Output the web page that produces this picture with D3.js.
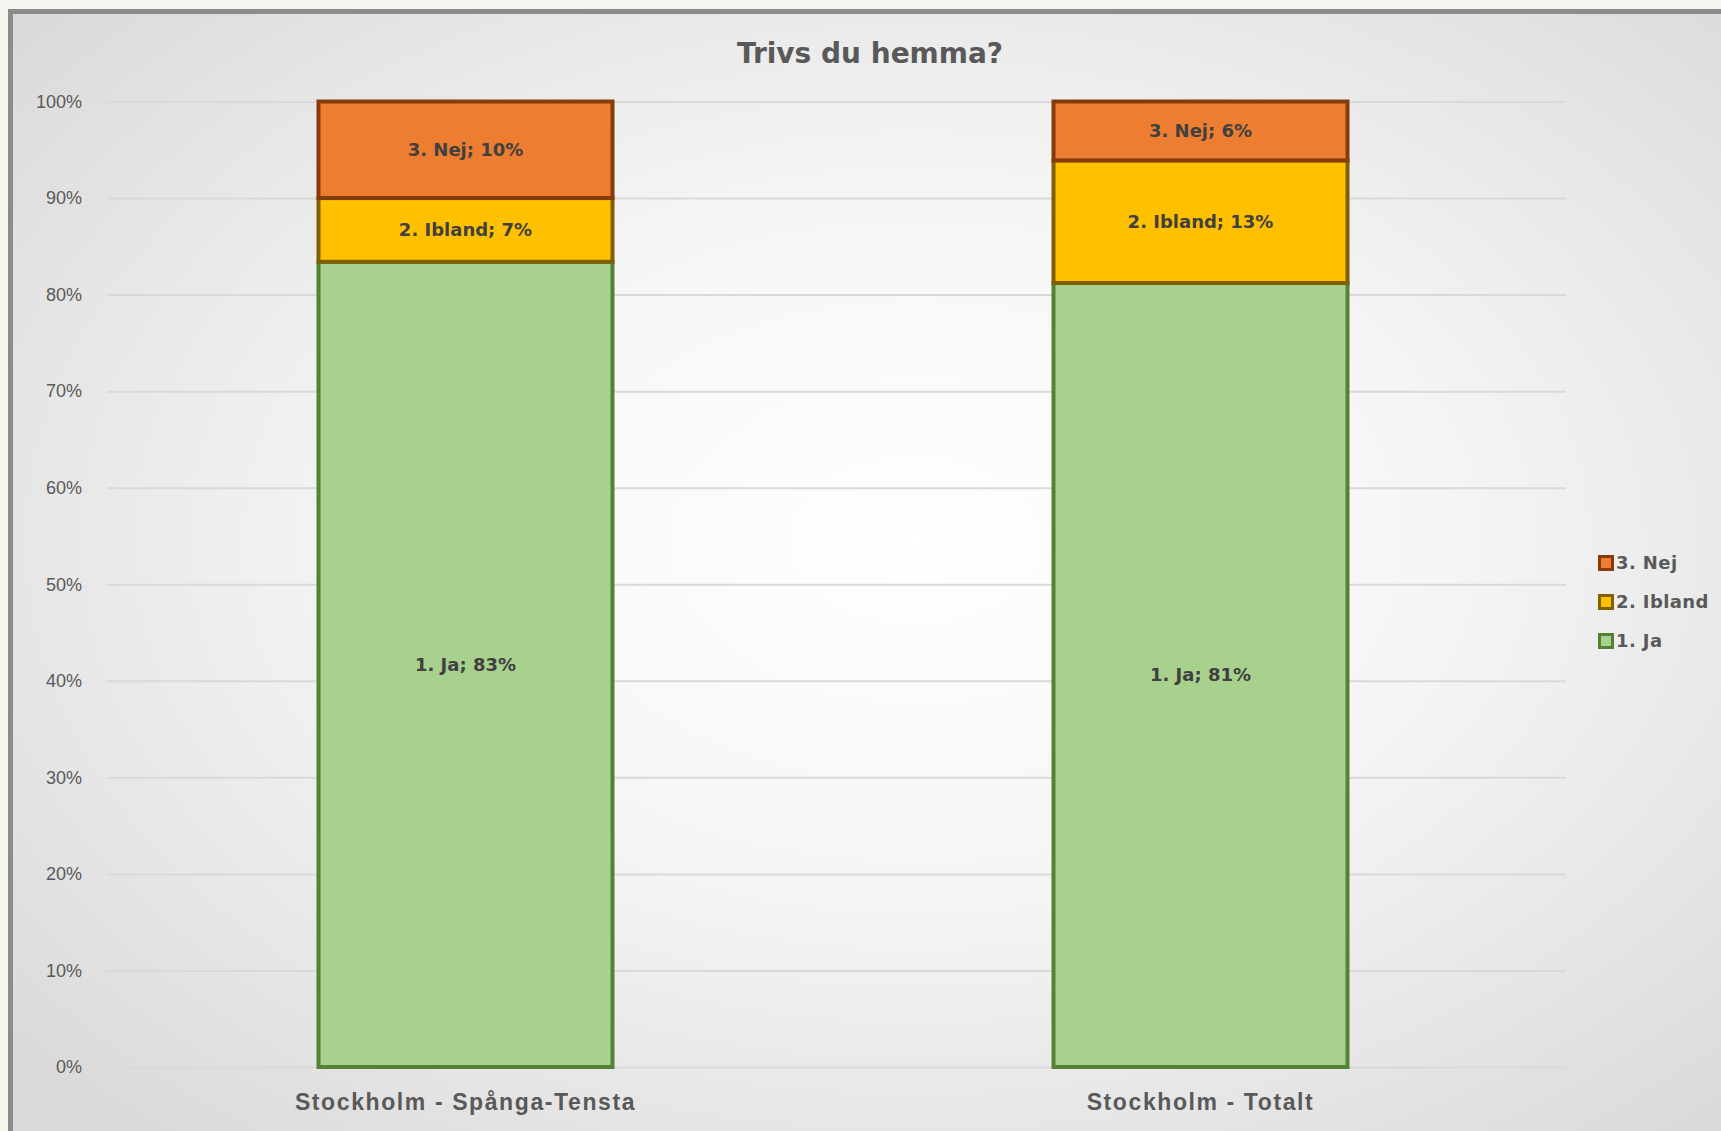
<!DOCTYPE html>
<html>
<head>
<meta charset="utf-8">
<script src="https://cdn.jsdelivr.net/npm/d3@7"></script>
<style>
  html, body { margin: 0; padding: 0; background: #f5f5f0; overflow: hidden; }
  svg { display: block; font-family: "DejaVu Sans", sans-serif; }
</style>
</head>
<body>
<svg id="chart"></svg>
<script>
const width = 1721;
const height = 1131;

// data
const categories = ["Stockholm - Spånga-Tensta", "Stockholm - Totalt"];
const seriesNames = ["1. Ja", "2. Ibland", "3. Nej"];
const ja = [83.4, 81.2];
const ibland = [6.6, 12.7];
const nej = [10.0, 6.1];
const yTicks = [0, 10, 20, 30, 40, 50, 60, 70, 80, 90, 100];

const fills = ["#a9d18e", "#ffc000", "#ed7d31"];
const strokes = ["#548235", "#7f6000", "#843c0c"];

const svg = d3.select("#chart")
  .attr("width", width)
  .attr("height", height);

// background gradient
const defs = svg.append("defs");
const grad = defs.append("radialGradient")
  .attr("id", "bg")
  .attr("cx", "52%").attr("cy", "46%").attr("r", "68%");
grad.append("stop").attr("offset", "0%").attr("stop-color", "#ffffff");
grad.append("stop").attr("offset", "45%").attr("stop-color", "#f5f5f5");
grad.append("stop").attr("offset", "100%").attr("stop-color", "#dadada");

svg.append("rect")
  .attr("x", 10.5)
  .attr("y", 11.5)
  .attr("width", width + 20)
  .attr("height", height + 20)
  .attr("fill", "url(#bg)")
  .attr("stroke", "#8c8c8c")
  .attr("stroke-width", 5);

const table = categories.map((c, i) => ({
  category: c,
  "1. Ja": ja[i],
  "2. Ibland": ibland[i],
  "3. Nej": nej[i]
}));

const stacked = d3.stack().keys(seriesNames)(table);

const x = d3.scaleBand()
  .domain(categories)
  .range([98, 1568])
  .paddingInner(0.6)
  .paddingOuter(0.3);

const y = d3.scaleLinear()
  .domain([0, 100])
  .range([1067, 101.5]);

// gridlines
const grid = svg.append("g")
  .attr("transform", "translate(107,0)")
  .call(d3.axisLeft(y).tickValues(yTicks).tickSize(-(1566 - 107)).tickFormat(""));
grid.select(".domain").remove();
grid.selectAll(".tick line")
  .attr("stroke", "#d9d9d9")
  .attr("stroke-width", 2);

// y axis labels
const yAxis = svg.append("g")
  .attr("transform", "translate(107,0)")
  .call(d3.axisLeft(y).tickValues(yTicks).tickSize(0).tickPadding(25).tickFormat(d => d + "%"));
yAxis.select(".domain").remove();
yAxis.selectAll("text")
  .attr("fill", "#595959")
  .style("font-size", "18px");

// bars
const layers = svg.append("g")
  .selectAll("g")
  .data(stacked)
  .join("g");

layers.selectAll("rect")
  .data(d => d.map(v => ({ key: d.key, idx: d.index, v })))
  .join("rect")
  .attr("x", d => x(d.v.data.category))
  .attr("y", d => y(d.v[1]))
  .attr("width", x.bandwidth())
  .attr("height", d => y(d.v[0]) - y(d.v[1]))
  .attr("fill", d => fills[d.idx])
  .attr("stroke", d => strokes[d.idx])
  .attr("stroke-width", 4);

// data labels
layers.selectAll("text")
  .data(d => d.map(v => ({ key: d.key, v })))
  .join("text")
  .attr("x", d => x(d.v.data.category) + x.bandwidth() / 2)
  .attr("y", d => y((d.v[0] + d.v[1]) / 2))
  .attr("dy", "0.35em")
  .attr("text-anchor", "middle")
  .attr("fill", "#404040")
  .style("font-size", "18px")
  .style("font-weight", "bold")
  .text(d => `${d.key}; ${Math.round(d.v[1] - d.v[0])}%`);

// category axis
const xAxis = svg.append("g")
  .attr("transform", "translate(0,1067)")
  .call(d3.axisBottom(x).tickSize(0).tickPadding(27));
xAxis.select(".domain").remove();
xAxis.selectAll("text")
  .attr("fill", "#595959")
  .style("font-size", "23px")
  .style("font-weight", "bold")
  .style("letter-spacing", "1.6px");

// title
svg.append("text")
  .attr("x", 870)
  .attr("y", 63)
  .attr("text-anchor", "middle")
  .attr("fill", "#595959")
  .style("font-size", "28px")
  .style("font-weight", "bold")
  .text("Trivs du hemma?");

// legend
const legend = svg.append("g")
  .attr("transform", "translate(1598,0)");

const legendRows = legend.selectAll("g")
  .data(seriesNames.map((s, i) => ({ name: s, i })).reverse())
  .join("g")
  .attr("transform", (d, j) => `translate(0,${563 + j * 39})`);

legendRows.append("rect")
  .attr("x", 1.5)
  .attr("y", -6.5)
  .attr("width", 13)
  .attr("height", 13)
  .attr("fill", d => fills[d.i])
  .attr("stroke", d => strokes[d.i])
  .attr("stroke-width", 3);

legendRows.append("text")
  .attr("x", 18)
  .attr("dy", "0.35em")
  .attr("fill", "#595959")
  .style("font-size", "18px")
  .style("font-weight", "bold")
  .style("letter-spacing", "0.4px")
  .text(d => d.name);
</script>
</body>
</html>
